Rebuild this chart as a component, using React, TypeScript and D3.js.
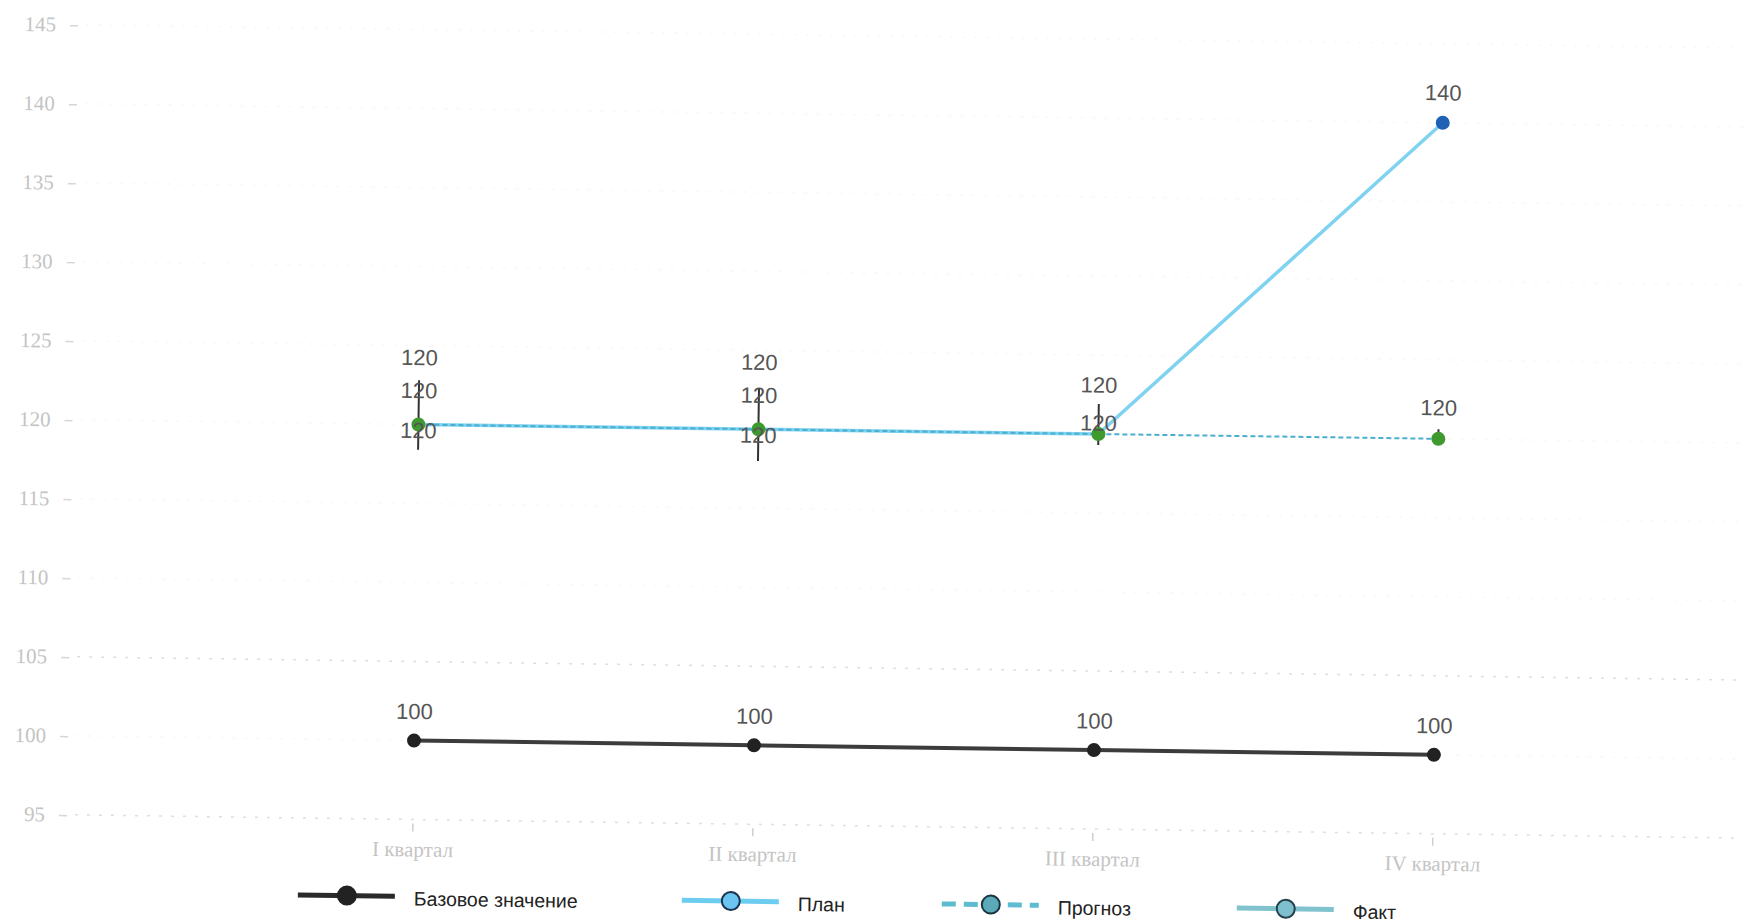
import React from 'react';
import * as d3 from 'd3';

const categories = ['I квартал', 'II квартал', 'III квартал', 'IV квартал'];
const baseValues = [100, 100, 100, 100];
const planValues = [120, 120, 120, 140];
const forecastValues = [120, 120, 120, 120];
const factValues = [120, 120, 120, 120];
const factLow = [118.4, 118.0, 119.3, 120.0];
const factHigh = [122.8, 122.6, 121.9, 120.6];
const yTicks = [95, 100, 105, 110, 115, 120, 125, 130, 135, 140, 145];
const legendNames = ['Базовое значение', 'План', 'Прогноз', 'Факт'];

// layout (not data)
const W = 1759;
const H = 923;
const planLabelDy = [-67, -67, -49, -30];
const forecastLabelDy = [-34, -34, -11, -31];
const factLabelDy: (number | null)[] = [6, 6, null, null];
const legendX = [304, 688, 948, 1243];
const legendY = 903;

export default function App() {
  const x = d3.scalePoint<string>().domain(categories).range([78, 1778]).padding(1);
  const y = d3.scaleLinear().domain([95, 145]).range([826, 36]);

  const line = d3
    .line<number>()
    .x((_, i) => x(categories[i]) as number)
    .y((v) => y(v));

  const labelFont = "'Liberation Sans', Arial, sans-serif";
  const axisFont = "'Liberation Serif', 'Times New Roman', serif";

  return (
    <svg
      width={W}
      height={H}
      style={{ position: 'absolute', left: 0, top: 0, display: 'block', background: '#fff' }}
    >
      <g transform="rotate(0.8, 880, 460)">
        {/* grid */}
        {yTicks.map((t) => (
          <line
            key={'g' + t}
            x1={80}
            x2={1740}
            y1={y(t)}
            y2={y(t)}
            stroke={t === 105 || t === 95 ? '#dedede' : '#f8f8f8'}
            strokeWidth={1.5}
            strokeDasharray="3 9"
          />
        ))}
        {/* y axis labels */}
        {yTicks.map((t) => (
          <g key={'yt' + t}>
            <text
              x={50}
              y={y(t)}
              textAnchor="end"
              dominantBaseline="central"
              fontFamily={axisFont}
              fontSize={21}
              fill="#c4c4c4"
            >
              {t}
            </text>
            <line x1={64} x2={72} y1={y(t) + 1} y2={y(t) + 1} stroke="#d6d6d6" strokeWidth={1.5} />
          </g>
        ))}
        {/* x axis ticks & labels */}
        {categories.map((c) => (
          <g key={'xt' + c}>
            <line x1={x(c)} x2={x(c)} y1={y(95) + 4} y2={y(95) + 12} stroke="#cfcfcf" strokeWidth={1.5} />
            <text
              x={x(c) as number}
              y={856}
              textAnchor="middle"
              dominantBaseline="central"
              fontFamily={axisFont}
              fontSize={21}
              fill="#c4c4c4"
            >
              {c}
            </text>
          </g>
        ))}

        {/* plan line */}
        <path d={line(planValues) || ''} fill="none" stroke="#7fd3f1" strokeWidth={3.5} />
        {/* forecast dashed line */}
        <path
          d={line(forecastValues) || ''}
          fill="none"
          stroke="#4aaecf"
          strokeWidth={2}
          strokeDasharray="5 3"
        />
        {/* base line */}
        <path d={line(baseValues) || ''} fill="none" stroke="#3c3c3c" strokeWidth={4} />

        {/* fact error bars */}
        {categories.map((c, i) => (
          <line
            key={'eb' + c}
            x1={x(c)}
            x2={x(c)}
            y1={y(factHigh[i])}
            y2={y(factLow[i])}
            stroke="#333"
            strokeWidth={2}
          />
        ))}

        {/* dots */}
        {categories.map((c, i) => (
          <circle key={'bd' + c} cx={x(c)} cy={y(baseValues[i])} r={7} fill="#222" />
        ))}
        {categories.map((c, i) =>
          planValues[i] !== factValues[i] ? (
            <circle key={'pd' + c} cx={x(c)} cy={y(planValues[i])} r={7} fill="#1f62b5" />
          ) : null
        )}
        {categories.map((c, i) => (
          <circle key={'fd' + c} cx={x(c)} cy={y(factValues[i])} r={7} fill="#3e9a2f" />
        ))}

        {/* labels */}
        {categories.map((c, i) => (
          <text
            key={'bl' + c}
            x={x(c) as number}
            y={y(baseValues[i]) - 29}
            textAnchor="middle"
            dominantBaseline="central"
            fontFamily={labelFont}
            fontSize={22}
            fill="#555"
          >
            {baseValues[i]}
          </text>
        ))}
        {categories.map((c, i) => (
          <text
            key={'pl' + c}
            x={x(c) as number}
            y={y(planValues[i]) + planLabelDy[i]}
            textAnchor="middle"
            dominantBaseline="central"
            fontFamily={labelFont}
            fontSize={22}
            fill="#555"
          >
            {planValues[i]}
          </text>
        ))}
        {categories.map((c, i) => (
          <text
            key={'fl' + c}
            x={x(c) as number}
            y={y(forecastValues[i]) + forecastLabelDy[i]}
            textAnchor="middle"
            dominantBaseline="central"
            fontFamily={labelFont}
            fontSize={22}
            fill="#555"
          >
            {forecastValues[i]}
          </text>
        ))}
        {categories.map((c, i) =>
          factLabelDy[i] === null ? null : (
            <text
              key={'fa' + c}
              x={x(c) as number}
              y={y(factValues[i]) + (factLabelDy[i] as number)}
              textAnchor="middle"
              dominantBaseline="central"
              fontFamily={labelFont}
              fontSize={22}
              fill="#555"
            >
              {factValues[i]}
            </text>
          )
        )}

        {/* legend */}
        {legendNames.map((name, i) => {
          const lx = legendX[i];
          const styles = [
            { line: '#2a2a2a', dash: undefined, fill: '#222', stroke: '#222' },
            { line: '#6ccdf0', dash: undefined, fill: '#6cc4f0', stroke: '#1b3550' },
            { line: '#5fbcd0', dash: '14 8', fill: '#5ba9b9', stroke: '#1b3540' },
            { line: '#80c3cf', dash: undefined, fill: '#7fc0cf', stroke: '#24404c' },
          ][i];
          return (
            <g key={'lg' + name}>
              <line
                x1={lx}
                x2={lx + 97}
                y1={legendY}
                y2={legendY}
                stroke={styles.line}
                strokeWidth={5}
                strokeDasharray={styles.dash}
              />
              <circle
                cx={lx + 49}
                cy={legendY}
                r={9}
                fill={styles.fill}
                stroke={styles.stroke}
                strokeWidth={2}
              />
              <text
                x={lx + 116}
                y={legendY + 2}
                dominantBaseline="central"
                fontFamily={labelFont}
                fontSize={19.5}
                fill="#222"
              >
                {name}
              </text>
            </g>
          );
        })}
      </g>
    </svg>
  );
}
